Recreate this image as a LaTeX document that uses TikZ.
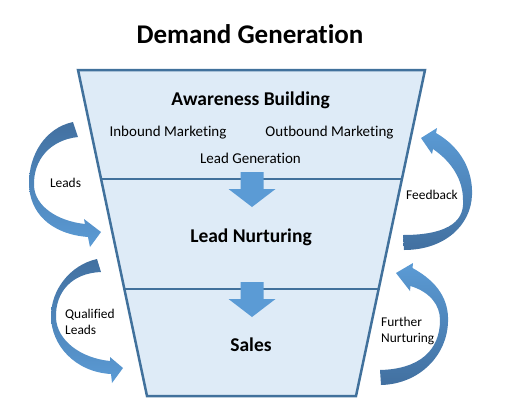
\documentclass[tikz,border=0pt]{standalone}
\usepackage{fontspec}
\setmainfont{Carlito}[Ligatures=NoCommon]
\usetikzlibrary{calc}
\definecolor{funnelfill}{RGB}{222,235,247}
\definecolor{funneledge}{RGB}{65,113,156}
\definecolor{arrowblue}{RGB}{91,155,213}
\definecolor{arrowdark}{RGB}{66,112,160}
\begin{document}
\begin{tikzpicture}[x=1pt,y=-1pt,
  funnel/.style={fill=funnelfill,draw=funneledge,line width=2.5pt,line join=miter},
  divider/.style={draw=funneledge,line width=2.5pt},
  blockarrow/.style={fill=arrowblue},
  curvedleft/.style={top color=arrowdark,bottom color=arrowblue,draw=none},
  curvedright/.style={top color=arrowblue,bottom color=arrowdark,draw=none},
  titletext/.style={font=\fontsize{27}{30}\selectfont\bfseries,anchor=base,inner sep=0pt},
  stagetext/.style={font=\fontsize{19.5}{22}\selectfont\bfseries,anchor=base,inner sep=0pt},
  itemtext/.style={font=\fontsize{15}{18}\selectfont,anchor=base,inner sep=0pt},
  sidetext/.style={font=\fontsize{13.4}{16}\selectfont,align=left,anchor=base west,inner sep=0pt},
  downarr/.pic={\fill[blockarrow] (-11.5,0) -- (11.5,0) -- (11.5,17) -- (23.5,17) -- (0,35) -- (-23.5,17) -- (-11.5,17) -- cycle;}
]
\useasboundingbox (0,0) rectangle (509,416);
% funnel
\coordinate (tl) at (78,70);
\coordinate (tr) at (425,70);
\coordinate (br) at (356,396);
\coordinate (bl) at (147,396);
\path[funnel] (tl) -- (tr) -- (br) -- (bl) -- cycle;
\draw[divider] ($(tl)!0.3344!(bl)$) -- ($(tr)!0.3344!(br)$);
\draw[divider] ($(tl)!0.6718!(bl)$) -- ($(tr)!0.6718!(br)$);
% down arrows
\coordinate (a1) at (252,172);
\coordinate (a2) at (252,282);
\pic at (a1) {downarr};
\pic at (a2) {downarr};
% curved arrows
\shade[curvedleft] (73,122) .. controls (45,128) and (29,155) .. (29,183) .. controls (29,212) and (50,234) .. (88,237) -- (90,247) -- (101,232) -- (84,219) -- (85,224) .. controls (57,221) and (35,206) .. (34,186) .. controls (33,160) and (50,140) .. (78,137) -- cycle;
\shade[curvedleft] (97,259) .. controls (70,265) and (51,290) .. (51,316) .. controls (51,345) and (75,372) .. (111,374) -- (112,383) -- (123,368) -- (110,357) -- (110,361) .. controls (80,358) and (57,340) .. (56,318) .. controls (55,292) and (72,273) .. (101,272) -- cycle;
\shade[curvedright] (421,138) -- (437,128) -- (436,133) .. controls (462,148) and (473,172) .. (472,195) .. controls (471,225) and (445,250) .. (404,250) -- (403,235) .. controls (443,235) and (465,224) .. (463,200) .. controls (463,180) and (452,162) .. (433,149) -- (432,154) -- cycle;
\shade[curvedright] (396,273) -- (413,263) -- (412.5,268) .. controls (438,282) and (449,300) .. (448,322) .. controls (447,355) and (420,384) .. (381,385) -- (380,370) .. controls (420,369) and (440,350) .. (440,320) .. controls (440,305) and (430,292) .. (410.5,286) -- (410,291) -- cycle;
% texts
\node[titletext] (title) at (250,43) {Demand Generation};
\node[stagetext] (aware) at (250.5,105) {Awareness Building};
\node[itemtext] (inbound) at (168,136) {Inbound Marketing};
\node[itemtext] (outbound) at (329.5,136) {Outbound Marketing};
\node[itemtext] (leadgen) at (250.5,163) {Lead Generation};
\node[stagetext] (nurture) at (251,242) {Lead Nurturing};
\node[stagetext] (sales) at (251,351) {Sales};
\node[sidetext,anchor=base] (leads) at (65.5,187) {Leads};
\node[sidetext] (qual) at (65,334.5) {Qualified\\Leads};
\node[sidetext,anchor=base] (feedback) at (432,199) {Feedback};
\node[sidetext] (further) at (381,342.5) {Further\\Nurturing};
\end{tikzpicture}
\end{document}
